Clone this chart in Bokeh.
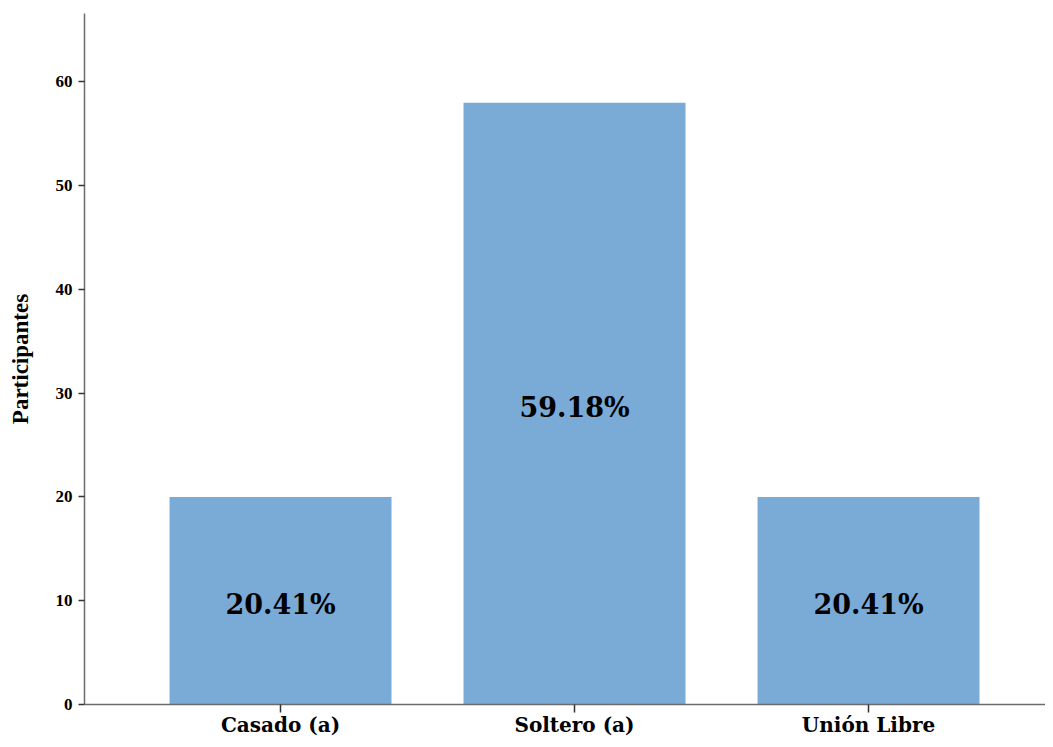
from bokeh.plotting import figure
from bokeh.models import ColumnDataSource, Range1d, FixedTicker
from bokeh.core.properties import value
from bokeh.embed import file_html
from bokeh.resources import INLINE

categories = ["Casado (a)", "Soltero (a)", "Unión Libre"]
counts = [20, 58, 20]
percents = ["20.41%", "59.18%", "20.41%"]
y_ticks = [0, 10, 20, 30, 40, 50, 60]

xs = [i + 1 for i in range(len(categories))]
src = ColumnDataSource(dict(
    x=xs, top=counts, mid=[c / 2 for c in counts], label=percents,
))

p = figure(width=1045, height=739, output_backend="svg", toolbar_location=None,
           x_range=Range1d(0.3333, 3.602), y_range=Range1d(0, 66.6),
           min_border_left=84, min_border_right=0, min_border_top=13, min_border_bottom=33)
p.outline_line_color = None
p.xgrid.visible = False
p.ygrid.visible = False

p.vbar(x="x", top="top", width=0.755, source=src, fill_color="#7aaad6", line_color=None)
p.text(x="x", y="mid", text="label", source=src, text_align="center", text_baseline="middle",
       y_offset=4,
       text_font=value("DejaVu Serif"), text_font_style="bold", text_font_size="27px",
       text_color="black")

axis_color = "#6b6b6b"
p.xaxis.ticker = FixedTicker(ticks=xs)
p.xaxis.major_label_overrides = {x: c for x, c in zip(xs, categories)}
p.xaxis.major_tick_out = 8
p.xaxis.major_tick_in = 0
p.xaxis.minor_tick_out = 0
p.xaxis.minor_tick_in = 0
p.xaxis.major_label_text_font = "DejaVu Serif"
p.xaxis.major_label_text_font_style = "bold"
p.xaxis.major_label_text_font_size = "20px"
p.xaxis.major_label_text_color = "black"
p.xaxis.major_label_standoff = 0

p.yaxis.ticker = FixedTicker(ticks=y_ticks)
p.yaxis.major_tick_out = 6
p.yaxis.major_tick_in = 0
p.yaxis.minor_tick_out = 0
p.yaxis.minor_tick_in = 0
p.yaxis.major_label_text_font = "Liberation Serif"
p.yaxis.major_label_text_font_style = "bold"
p.yaxis.major_label_text_font_size = "17px"
p.yaxis.major_label_text_color = "black"
p.yaxis.major_label_standoff = 6
p.yaxis.axis_label = "Participantes"
p.yaxis.axis_label_text_font = "Liberation Serif"
p.yaxis.axis_label_text_font_style = "bold"
p.yaxis.axis_label_text_font_size = "23px"
p.yaxis.axis_label_text_color = "black"
p.yaxis.axis_label_standoff = 20

for ax in (p.xaxis, p.yaxis):
    ax.axis_line_color = axis_color
    ax.axis_line_width = 1.5
    ax.major_tick_line_color = "#333333"
    ax.major_tick_line_width = 1.5

open("out.html", "w").write(file_html(p, INLINE))
